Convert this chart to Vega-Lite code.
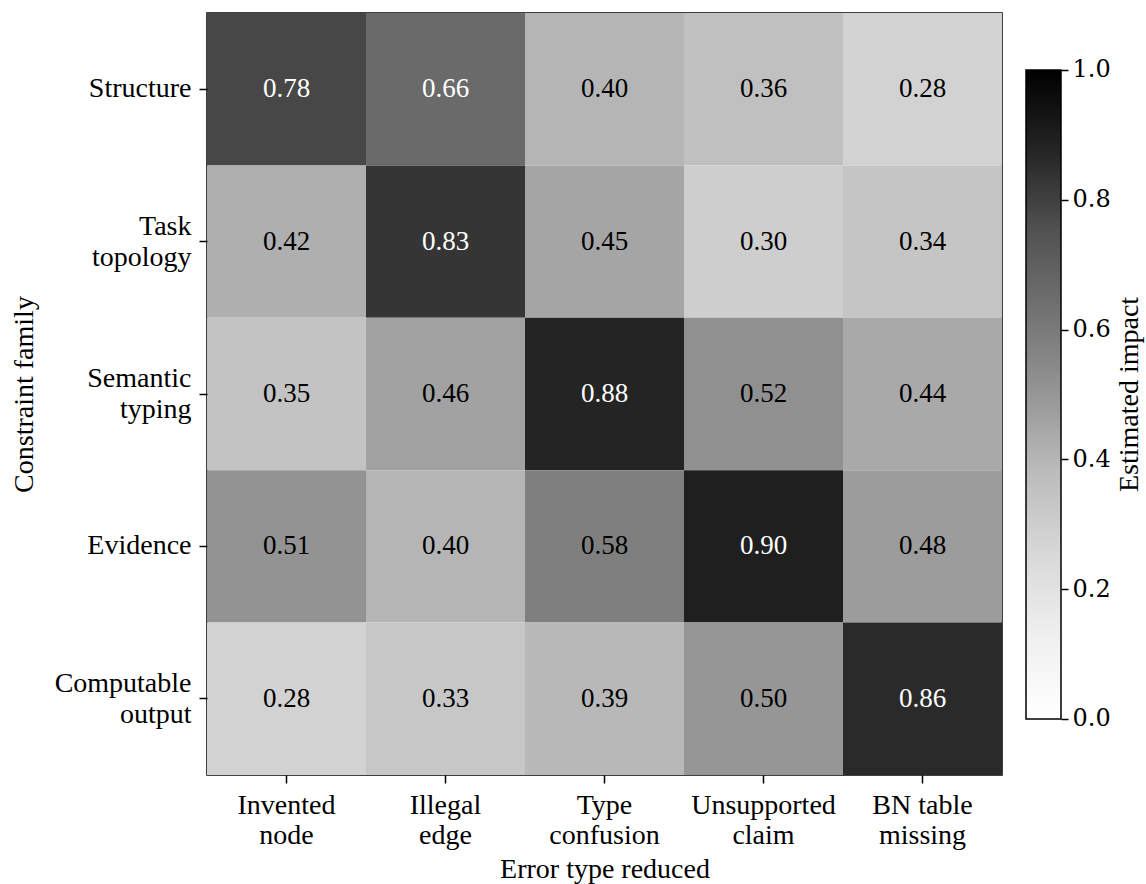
{
  "$schema": "https://vega.github.io/schema/vega-lite/v6.json",
  "background": "white",
  "padding": {"left": 9, "top": 12, "right": 5, "bottom": 5},
  "spacing": 22,
  "config": {
    "font": "Liberation Serif",
    "view": {"stroke": null},
    "axis": {
      "labelFont": "Liberation Serif",
      "labelFontSize": 28,
      "labelColor": "black",
      "titleFont": "Liberation Serif",
      "titleFontSize": 28,
      "titleFontWeight": "normal",
      "titleColor": "black",
      "tickColor": "black",
      "tickWidth": 1.5,
      "tickSize": 8,
      "domain": false,
      "grid": false
    }
  },
  "data": {
    "values": [
      {"family": "Structure", "error": "Invented node", "v": 0.78},
      {"family": "Structure", "error": "Illegal edge", "v": 0.66},
      {"family": "Structure", "error": "Type confusion", "v": 0.40},
      {"family": "Structure", "error": "Unsupported claim", "v": 0.36},
      {"family": "Structure", "error": "BN table missing", "v": 0.28},
      {"family": "Task topology", "error": "Invented node", "v": 0.42},
      {"family": "Task topology", "error": "Illegal edge", "v": 0.83},
      {"family": "Task topology", "error": "Type confusion", "v": 0.45},
      {"family": "Task topology", "error": "Unsupported claim", "v": 0.30},
      {"family": "Task topology", "error": "BN table missing", "v": 0.34},
      {"family": "Semantic typing", "error": "Invented node", "v": 0.35},
      {"family": "Semantic typing", "error": "Illegal edge", "v": 0.46},
      {"family": "Semantic typing", "error": "Type confusion", "v": 0.88},
      {"family": "Semantic typing", "error": "Unsupported claim", "v": 0.52},
      {"family": "Semantic typing", "error": "BN table missing", "v": 0.44},
      {"family": "Evidence", "error": "Invented node", "v": 0.51},
      {"family": "Evidence", "error": "Illegal edge", "v": 0.40},
      {"family": "Evidence", "error": "Type confusion", "v": 0.58},
      {"family": "Evidence", "error": "Unsupported claim", "v": 0.90},
      {"family": "Evidence", "error": "BN table missing", "v": 0.48},
      {"family": "Computable output", "error": "Invented node", "v": 0.28},
      {"family": "Computable output", "error": "Illegal edge", "v": 0.33},
      {"family": "Computable output", "error": "Type confusion", "v": 0.39},
      {"family": "Computable output", "error": "Unsupported claim", "v": 0.50},
      {"family": "Computable output", "error": "BN table missing", "v": 0.86}
    ]
  },
  "hconcat": [
    {
      "width": 795,
      "height": 762,
      "view": {"stroke": "black", "strokeWidth": 1.5},
      "encoding": {
        "x": {
          "field": "error", "type": "nominal", "sort": null,
          "scale": {"paddingInner": 0, "paddingOuter": 0},
          "axis": {
            "title": "Error type reduced",
            "labelAngle": 0,
            "labelPadding": 8,
            "labelLineHeight": 30,
            "titlePadding": 6,
            "labelExpr": "datum.value == 'BN table missing' ? ['BN table', 'missing'] : split(datum.value, ' ')"
          }
        },
        "y": {
          "field": "family", "type": "nominal", "sort": null,
          "scale": {"paddingInner": 0, "paddingOuter": 0},
          "axis": {
            "title": "Constraint family",
            "labelPadding": 8,
            "labelLineHeight": 31,
            "titlePadding": 16,
            "labelOffset": {"condition": {"test": "indexof(datum.value, ' ') > 0", "value": -15}, "value": 0},
            "labelExpr": "split(datum.value, ' ')"
          }
        }
      },
      "layer": [
        {
          "mark": {"type": "rect"},
          "encoding": {
            "color": {
              "field": "v", "type": "quantitative",
              "scale": {
                "domain": [0, 0.125, 0.25, 0.375, 0.5, 0.625, 0.75, 0.875, 1],
                "range": ["#ffffff", "#f0f0f0", "#d9d9d9", "#bdbdbd", "#969696", "#737373", "#525252", "#252525", "#000000"]
              },
              "legend": null
            }
          }
        },
        {
          "mark": {"type": "text", "fontSize": 27, "font": "Liberation Serif"},
          "encoding": {
            "text": {"field": "v", "type": "quantitative", "format": ".2f"},
            "color": {
              "condition": {"test": "datum.v > 0.6", "value": "white"},
              "value": "black"
            }
          }
        }
      ]
    },
    {
      "width": 35,
      "height": 762,
      "data": {"values": [{"lo": 0, "hi": 1}]},
      "mark": {
        "type": "rect",
        "stroke": "black",
        "strokeWidth": 1.5,
        "color": {
          "gradient": "linear",
          "x1": 0, "y1": 1, "x2": 0, "y2": 0,
          "stops": [
            {"offset": 0, "color": "#ffffff"},
            {"offset": 0.125, "color": "#f0f0f0"},
            {"offset": 0.25, "color": "#d9d9d9"},
            {"offset": 0.375, "color": "#bdbdbd"},
            {"offset": 0.5, "color": "#969696"},
            {"offset": 0.625, "color": "#737373"},
            {"offset": 0.75, "color": "#525252"},
            {"offset": 0.875, "color": "#252525"},
            {"offset": 1, "color": "#000000"}
          ]
        }
      },
      "encoding": {
        "y": {
          "field": "lo", "type": "quantitative",
          "scale": {"domain": [-0.0863, 1.0878], "nice": false, "zero": false},
          "axis": {
            "orient": "right",
            "values": [0, 0.2, 0.4, 0.6, 0.8, 1.0],
            "format": ".1f",
            "labelFont": "DejaVu Serif",
            "labelFontSize": 24,
            "labelPadding": 4,
            "tickSize": 7,
            "title": "Estimated impact",
            "titleAngle": -90,
            "titleBaseline": "top",
            "titlePadding": 5
          }
        },
        "y2": {"field": "hi"}
      }
    }
  ]
}
